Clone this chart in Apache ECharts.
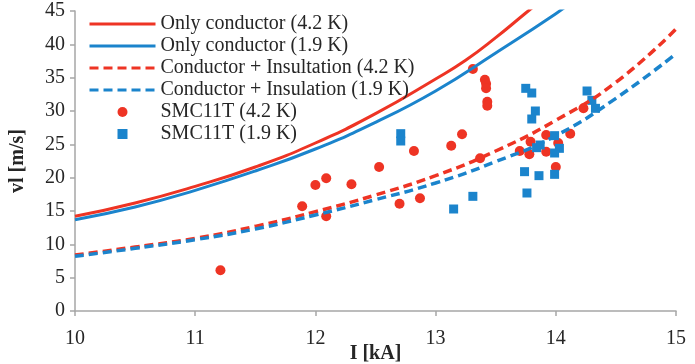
<!DOCTYPE html>
<html>
<head>
<meta charset="utf-8">
<script src="https://cdn.jsdelivr.net/npm/echarts@6/dist/echarts.min.js"></script>
<style>
  html, body { margin: 0; padding: 0; background: #fff; }
  #chart { width: 695px; height: 364px; }
</style>
</head>
<body>
<div id="chart"></div>
<script>
// Current values (kA) at which the model curves are tabulated
const currentSolid42 = [10, 10.5, 11, 11.5, 12, 12.5, 13, 13.25, 13.5, 13.75, 13.9];
const vOnlyConductor42 = [14.2, 16.2, 18.7, 21.6, 25.2, 29.6, 34.8, 37.6, 41.0, 44.7, 46.9];

const currentSolid19 = [10, 10.5, 11, 11.5, 12, 12.5, 13, 13.5, 14, 14.15];
const vOnlyConductor19 = [13.7, 15.6, 18.1, 21.0, 24.3, 28.3, 33.0, 38.7, 44.6, 46.6];

const currentDashed = [10, 10.5, 11, 11.5, 12, 12.5, 13, 13.5, 14, 14.5, 15];
const vInsulated42 = [8.4, 9.6, 10.9, 12.7, 14.9, 17.4, 20.3, 24.0, 28.6, 34.3, 42.3];
const vInsulated19 = [8.2, 9.4, 10.7, 12.3, 14.4, 16.7, 19.2, 22.4, 26.3, 31.9, 38.6];

// Measured quench propagation velocities, SMC11T at 4.2 K
const smc42Current = [11.21, 11.89, 12.00, 12.09, 12.09, 12.30, 12.53, 12.70, 12.82, 12.87,
  13.13, 13.22, 13.31, 13.37, 13.41, 13.42, 13.42, 13.43, 13.43,
  13.70, 13.78, 13.79, 13.92, 13.92, 14.00, 14.02, 14.12, 14.23];
const smc42Velocity = [6.1, 15.7, 18.9, 19.9, 14.2, 19.0, 21.6, 16.1, 24.0, 16.9,
  24.8, 26.5, 36.3, 22.9, 34.7, 34.1, 33.4, 31.4, 30.8,
  24.0, 23.5, 25.4, 26.4, 23.9, 21.6, 25.2, 26.6, 30.4];

// Measured quench propagation velocities, SMC11T at 1.9 K
const smc19Current = [12.71, 12.71, 13.15, 13.31, 13.75, 13.80, 13.83, 13.80, 13.99, 13.87,
  13.84, 14.03, 13.99, 13.74, 13.86, 13.99, 13.76, 14.26, 14.30, 14.33];
const smc19Velocity = [26.6, 25.5, 15.3, 17.2, 33.4, 32.7, 30.0, 28.8, 26.3, 24.9,
  24.5, 24.4, 23.7, 20.9, 20.3, 20.5, 17.7, 33.0, 31.6, 30.4];

const xTicks = { min: 10, max: 15, interval: 1 };
const yTicks = { min: 0, max: 45, interval: 5 };

const RED = '#EE3424';
const BLUE = '#1B84CC';
const AXIS_GREY = '#A6A6A6';
const TEXT = '#262626';
const SERIF = '"Liberation Serif", "Times New Roman", serif';

const pairs = (xs, ys) => xs.map((x, i) => [x, ys[i]]);

const chart = echarts.init(document.getElementById('chart'), null, { renderer: 'canvas' });

// Line entries show only the stroke; the markers get compact square/circle icons
const lineLegend = name => ({ name, itemStyle: { opacity: 0 }, lineStyle: { width: 3 } });

chart.setOption({
  animation: false,
  backgroundColor: '#fff',
  grid: { left: 75, right: 19, top: 11, bottom: 53, containLabel: false, outerBoundsMode: 'none' },
  legend: {
    left: 88,
    top: 14,
    padding: 0,
    orient: 'vertical',
    itemWidth: 66,
    itemHeight: 10,
    itemGap: 2,
    symbolKeepAspect: true,
    textStyle: { fontFamily: SERIF, fontSize: 20, color: TEXT, lineHeight: 20 },
    data: [
      lineLegend('Only conductor (4.2 K)'),
      lineLegend('Only conductor (1.9 K)'),
      lineLegend('Conductor + Insultation (4.2 K)'),
      lineLegend('Conductor + Insulation (1.9 K)'),
      { name: 'SMC11T (4.2 K)', icon: 'circle' },
      { name: 'SMC11T (1.9 K)', icon: 'path://M0,0H10V10H0Z' }
    ]
  },
  xAxis: {
    type: 'value',
    min: xTicks.min, max: xTicks.max, interval: xTicks.interval,
    name: 'I [kA]',
    nameLocation: 'middle',
    nameGap: 33,
    nameMoveOverlap: false,
    nameTextStyle: { fontFamily: SERIF, fontSize: 20, fontWeight: 'bold', color: TEXT, lineHeight: 20 },
    axisLine: { lineStyle: { color: AXIS_GREY, width: 1.5 } },
    axisTick: { show: true, length: 5, lineStyle: { color: AXIS_GREY, width: 1.5 } },
    axisLabel: { fontFamily: SERIF, fontSize: 20, color: TEXT, margin: 18, lineHeight: 20,
                 verticalAlign: 'top' },
    splitLine: { show: false }
  },
  yAxis: {
    type: 'value',
    min: yTicks.min, max: yTicks.max, interval: yTicks.interval,
    name: 'vl [m/s]',
    nameLocation: 'middle',
    nameGap: 47,
    nameTextStyle: { fontFamily: SERIF, fontSize: 20, fontWeight: 'bold', color: TEXT },
    axisLine: { show: true, lineStyle: { color: AXIS_GREY, width: 1.5 } },
    axisTick: { show: true, length: 5, lineStyle: { color: AXIS_GREY, width: 1.5 } },
    axisLabel: { fontFamily: SERIF, fontSize: 20, color: TEXT, margin: 10 },
    splitLine: { show: false }
  },
  series: [
    {
      name: 'Only conductor (4.2 K)', type: 'line', smooth: true, symbol: 'none', clip: true,
      data: pairs(currentSolid42, vOnlyConductor42),
      lineStyle: { color: RED, width: 3 }, itemStyle: { color: RED }
    },
    {
      name: 'Only conductor (1.9 K)', type: 'line', smooth: true, symbol: 'none', clip: true,
      data: pairs(currentSolid19, vOnlyConductor19),
      lineStyle: { color: BLUE, width: 3 }, itemStyle: { color: BLUE }
    },
    {
      name: 'Conductor + Insultation (4.2 K)', type: 'line', smooth: true, symbol: 'none', clip: true,
      data: pairs(currentDashed, vInsulated42),
      lineStyle: { color: RED, width: 3.5, type: [9, 5] }, itemStyle: { color: RED }
    },
    {
      name: 'Conductor + Insulation (1.9 K)', type: 'line', smooth: true, symbol: 'none', clip: true,
      data: pairs(currentDashed, vInsulated19),
      lineStyle: { color: BLUE, width: 3.5, type: [9, 5] }, itemStyle: { color: BLUE }
    },
    {
      name: 'SMC11T (4.2 K)', type: 'scatter', symbol: 'circle', symbolSize: 10,
      data: pairs(smc42Current, smc42Velocity),
      itemStyle: { color: RED, opacity: 1 }
    },
    {
      name: 'SMC11T (1.9 K)', type: 'scatter', symbol: 'rect', symbolSize: 9,
      data: pairs(smc19Current, smc19Velocity),
      itemStyle: { color: BLUE, opacity: 1 }
    }
  ]
});
</script>
</body>
</html>
